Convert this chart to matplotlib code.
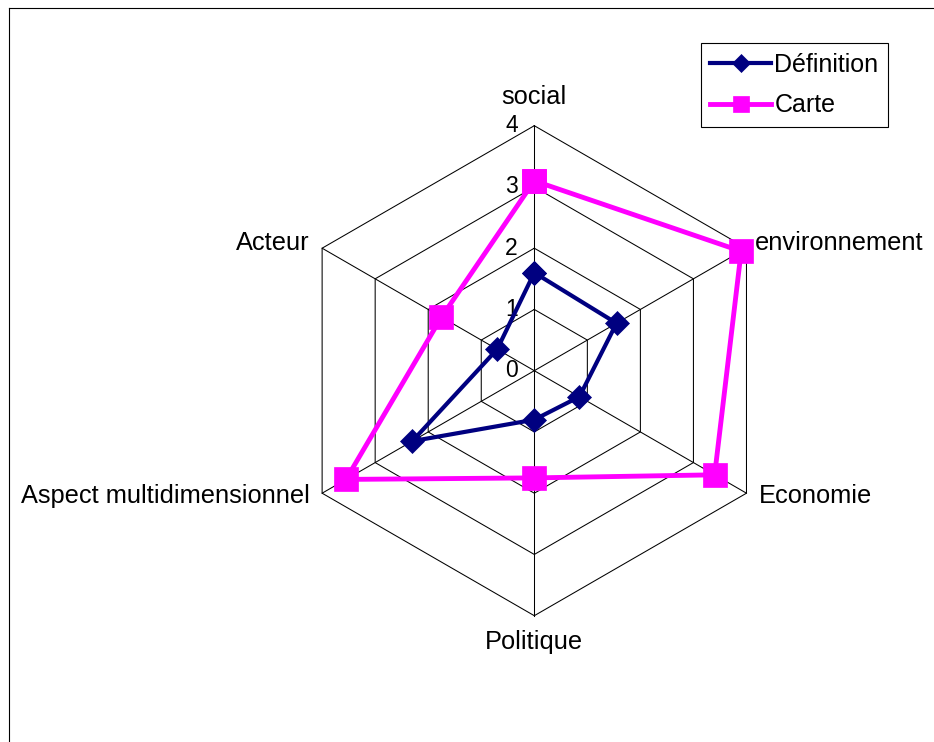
import numpy as np
import matplotlib
matplotlib.use('Agg')
import matplotlib.pyplot as plt
from matplotlib.lines import Line2D

plt.rcParams['font.family'] = ['Liberation Sans', 'DejaVu Sans']

categories = ['social', 'environnement', 'Economie', 'Politique',
              'Aspect multidimensionnel', 'Acteur']
definition = [1.6, 1.55, 0.85, 0.8, 2.3, 0.7]
carte = [3.1, 3.9, 3.4, 1.75, 3.55, 1.75]
ticks = [0, 1, 2, 3, 4]

W, H = 934, 742
cx, cy = 534.3, 370.7      # centre of the radar in pixels
unit = 61.25               # pixels per value unit

fig = plt.figure(figsize=(W / 100, H / 100), dpi=100)
ax = fig.add_axes([0, 0, 1, 1])
ax.set_xlim(-cx / unit, (W - cx) / unit)
ax.set_ylim(-(H - cy) / unit, cy / unit)
ax.axis('off')

n = len(categories)
ang = np.deg2rad(90 - 360 / n * np.arange(n))
ca, sa = np.cos(ang), np.sin(ang)


def closed(vals):
    v = np.asarray(vals, dtype=float)
    x, y = v * ca, v * sa
    return np.append(x, x[0]), np.append(y, y[0])


# hexagonal grid
for t in ticks[1:]:
    gx, gy = closed([t] * n)
    ax.plot(gx, gy, color='black', lw=0.75, zorder=1)
rmax = ticks[-1]
for c, s in zip(ca, sa):
    ax.plot([0, rmax * c], [0, rmax * s], color='black', lw=0.75, zorder=1)

# tick labels along the first spoke
for t in ticks:
    ax.annotate(str(t), (0, t), xytext=(-12, 0), textcoords='offset points',
                ha='right', va='center', fontsize=16.5)

# category labels
offsets = [(0, 21, 'center'), (6, 4, 'left'), (9, -2, 'left'),
           (0, -19, 'center'), (-9, -2, 'right'), (-9, 4, 'right')]
for lab, c, s, (dx, dy, ha) in zip(categories, ca, sa, offsets):
    ax.annotate(lab, (rmax * c, rmax * s), xytext=(dx, dy),
                textcoords='offset points', ha=ha, va='center', fontsize=18.3)

x1, y1 = closed(definition)
ax.plot(x1, y1, color='#000080', lw=3, marker='D', markersize=12.5,
        markeredgewidth=0.5, label='Définition', zorder=3)
x2, y2 = closed(carte)
ax.plot(x2, y2, color='#FF00FF', lw=3.5, marker='s', markersize=17,
        markeredgewidth=0.5, label='Carte', zorder=4)

leg = ax.legend(loc='upper right', bbox_to_anchor=(888 / W, 1 - 43 / H),
                bbox_transform=fig.transFigure, borderaxespad=0,
                fontsize=18, fancybox=False, framealpha=1, edgecolor='black',
                handlelength=2.45, handletextpad=0.12, labelspacing=0.68,
                borderpad=0.38, markerscale=0.7)
leg.get_frame().set_linewidth(0.8)

# outer chart frame (right and bottom edges fall outside the image)
fig.add_artist(Line2D([9 / W, 9 / W], [0, 1 - 8 / H], color='black', lw=0.8))
fig.add_artist(Line2D([9 / W, 1], [1 - 8 / H, 1 - 8 / H], color='black', lw=0.8))

fig.savefig('out.png', dpi=100)
